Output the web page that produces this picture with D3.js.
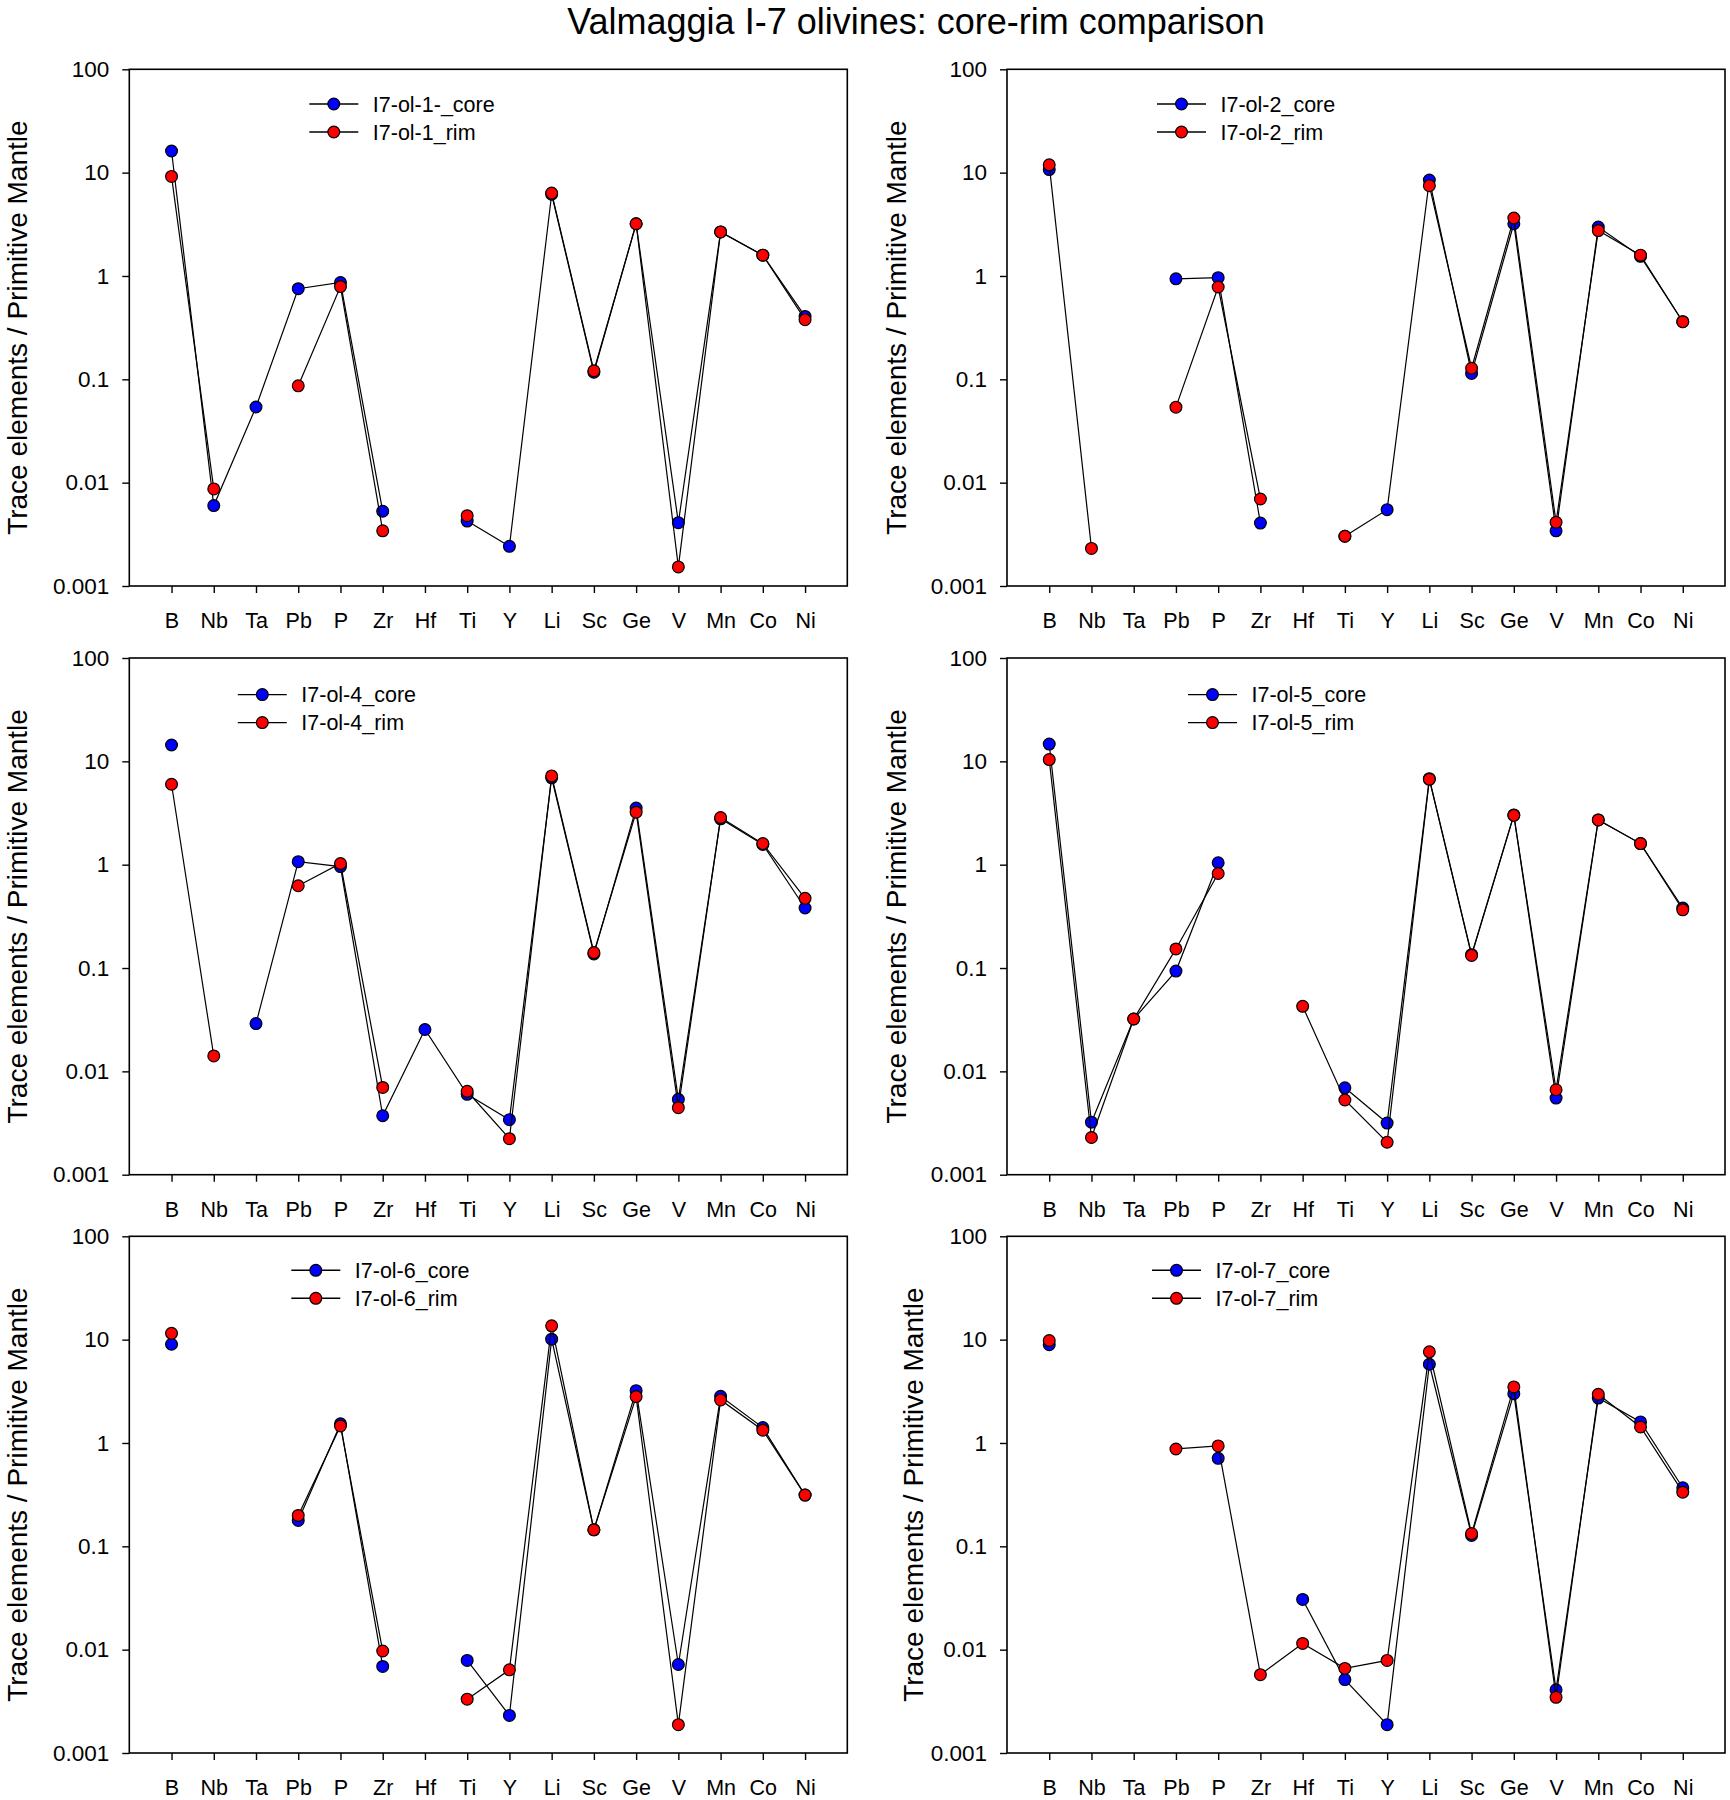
<!DOCTYPE html>
<html>
<head>
<meta charset="utf-8">
<script src="https://cdn.jsdelivr.net/npm/d3@7"></script>
<style>
  html, body { margin: 0; padding: 0; background: #ffffff; }
  svg { display: block; }
  text { font-family: "Liberation Sans", Arial, sans-serif; fill: #000; }
</style>
</head>
<body>
<div id="chart"></div>
<script>
// ---------------- DATA ----------------
const chartTitle = "Valmaggia I-7 olivines: core-rim comparison";
const yAxisTitle = "Trace elements / Primitive Mantle";
const elements = ["B","Nb","Ta","Pb","P","Zr","Hf","Ti","Y","Li","Sc","Ge","V","Mn","Co","Ni"];
const yTickValues = [0.001, 0.01, 0.1, 1, 10, 100];
const yTickLabels = ["0.001", "0.01", "0.1", "1", "10", "100"];

const seriesNames = [
  ["I7-ol-1-_core", "I7-ol-1_rim"],
  ["I7-ol-2_core", "I7-ol-2_rim"],
  ["I7-ol-4_core", "I7-ol-4_rim"],
  ["I7-ol-5_core", "I7-ol-5_rim"],
  ["I7-ol-6_core", "I7-ol-6_rim"],
  ["I7-ol-7_core", "I7-ol-7_rim"]
];

//                B     Nb      Ta     Pb     P      Zr       Hf      Ti       Y        Li    Sc     Ge    V        Mn    Co    Ni
const ol1_core = [16.2, 0.0060, 0.054, 0.753, 0.865, 0.00529, null,   0.00425, 0.00242, 6.18, 0.117, 3.20, 0.0041,  2.67, 1.59, 0.406];
const ol1_rim  = [9.2,  0.0087, null,  0.0865,0.789, 0.00342, null,   0.00479, null,    6.34, 0.121, 3.20, 0.00153, 2.67, 1.59, 0.378];
const ol2_core = [10.7, null,   null,  0.938, 0.964, 0.00406, null,   0.00303, 0.00548, 8.49, 0.114, 3.20, 0.00342, 2.98, 1.55, 0.361];
const ol2_rim  = [11.9, 0.00231,null,  0.0538,0.782, 0.00695, null,   0.00303, null,    7.48, 0.128, 3.64, 0.00414, 2.75, 1.59, 0.361];
const ol4_core = [14.4, null,   0.029, 1.07,  0.958, 0.00372, 0.0254, 0.0060,  0.00341, 6.93, 0.137, 3.53, 0.00537, 2.78, 1.57, 0.381];
const ol4_rim  = [6.0,  0.0141, null,  0.625, 1.026, 0.00699, null,   0.00642, 0.00223, 7.23, 0.141, 3.22, 0.00445, 2.86, 1.60, 0.472];
const ol5_core = [14.7, 0.00322,0.0321,0.0934,1.044, null,    null,   0.00693, 0.00316, 6.80, 0.1345,3.03, 0.00551, 2.71, 1.60, 0.381];
const ol5_rim  = [10.4, 0.00229,0.0321,0.153, 0.822, null,    0.0426, 0.00528, 0.00206, 6.70, 0.1325,3.00, 0.00664, 2.71, 1.60, 0.366];
const ol6_core = [9.02, null,   null,  0.178, 1.535, 0.00688, null,   0.00787, 0.00231, 10.1, 0.1445,3.21, 0.00718, 2.83, 1.41, 0.313];
const ol6_rim  = [11.5, null,   null,  0.199, 1.46,  0.0097,  null,   0.00332, 0.00638, 13.6, 0.1445,2.81, 0.00188, 2.61, 1.33, 0.313];
const ol7_core = [8.94, null,   null,  null,  0.71,  null,    0.0306, 0.00513, 0.00188, 5.78, 0.1274,3.00, 0.00409, 2.72, 1.60, 0.369];
const ol7_rim  = [9.8,  null,   null,  0.875, 0.937, 0.00573, 0.01148,0.00659, 0.00787, 7.62, 0.1328,3.49, 0.00346, 2.96, 1.43, 0.334];

const panelData = [
  [ol1_core, ol1_rim], [ol2_core, ol2_rim],
  [ol4_core, ol4_rim], [ol5_core, ol5_rim],
  [ol6_core, ol6_rim], [ol7_core, ol7_rim]
];
const seriesColors = ["#0000ff", "#ff0000"];

// ---------------- LAYOUT ----------------
const W = 1730, H = 1800;
const colLeft = [129.3, 1007];
const rowTop = [69.3, 658, 1236.3];
const plotW = 718, plotH = 516.7;
const yLabelX = [17, 896, 17, 896, 17, 913];
const legendX = [180, 150, 108.5, 181, 162, 145];
const legendY = [34.7, 34.7, 36.6, 36.6, 34, 34];
const legendGap = 28;

const svg = d3.select("#chart").append("svg")
  .attr("width", W).attr("height", H)
  .attr("viewBox", `0 0 ${W} ${H}`);

svg.append("rect").attr("width", W).attr("height", H).attr("fill", "#fff");

svg.append("text")
  .attr("x", 916).attr("y", 34)
  .attr("text-anchor", "middle")
  .style("font-size", "36px")
  .text(chartTitle);

const x = d3.scalePoint().domain(elements).range([0, plotW]).padding(1);
const y = d3.scaleLog().domain([0.001, 100]).range([plotH, 0]);

panelData.forEach((series, i) => {
  const col = i % 2, row = Math.floor(i / 2);
  const g = svg.append("g").attr("transform", `translate(${colLeft[col]},${rowTop[row]})`);

  // y axis
  const ya = g.append("g").call(
    d3.axisLeft(y).tickValues(yTickValues)
      .tickFormat((d, k) => yTickLabels[k])
      .tickSize(7).tickPadding(13).tickSizeOuter(0)
  );
  ya.select(".domain").remove();
  ya.selectAll("line").attr("stroke", "#000").attr("stroke-width", 1.4);
  ya.selectAll("text").style("font-size", "22.5px").attr("font-family", null);

  // x axis
  const xa = g.append("g").attr("transform", `translate(0,${plotH})`).call(
    d3.axisBottom(x).tickSize(7).tickPadding(20).tickSizeOuter(0)
  );
  xa.select(".domain").remove();
  xa.selectAll("line").attr("stroke", "#000").attr("stroke-width", 1.4);
  xa.selectAll("text").style("font-size", "21.5px").attr("font-family", null);

  // frame
  g.append("rect").attr("x", 0).attr("y", 0).attr("width", plotW).attr("height", plotH)
    .attr("fill", "none").attr("stroke", "#000").attr("stroke-width", 1.6);

  // y label
  svg.append("text")
    .attr("transform", `translate(${yLabelX[i]},${rowTop[row] + plotH / 2}) rotate(-90)`)
    .attr("text-anchor", "middle").attr("dy", "0.36em")
    .style("font-size", "28px")
    .text(yAxisTitle);

  const line = d3.line()
    .defined(d => d.v != null)
    .x(d => x(d.e)).y(d => y(d.v));

  series.forEach((vals, s) => {
    const pts = elements.map((e, k) => ({ e: e, v: vals[k] }));
    g.append("path").datum(pts)
      .attr("d", line).attr("fill", "none")
      .attr("stroke", "#000").attr("stroke-width", 1.2);
    g.selectAll(null).data(pts.filter(d => d.v != null)).enter()
      .append("circle")
      .attr("cx", d => x(d.e)).attr("cy", d => y(d.v))
      .attr("r", 5.9)
      .attr("fill", seriesColors[s]).attr("stroke", "#000").attr("stroke-width", 1.2);
  });

  // legend
  const lg = g.append("g").attr("transform", `translate(${legendX[i]},${legendY[i]})`);
  seriesNames[i].forEach((name, s) => {
    const r = lg.append("g").attr("transform", `translate(0,${s * legendGap})`);
    r.append("line").attr("x1", 0).attr("x2", 49).attr("y1", 0).attr("y2", 0)
      .attr("stroke", "#000").attr("stroke-width", 1.4);
    r.append("circle").attr("cx", 24.5).attr("cy", 0).attr("r", 5.9)
      .attr("fill", seriesColors[s]).attr("stroke", "#000").attr("stroke-width", 1.2);
    r.append("text").attr("x", 63.5).attr("y", 0).attr("dy", "0.36em")
      .style("font-size", "21.5px").text(name);
  });
});
</script>
</body>
</html>
